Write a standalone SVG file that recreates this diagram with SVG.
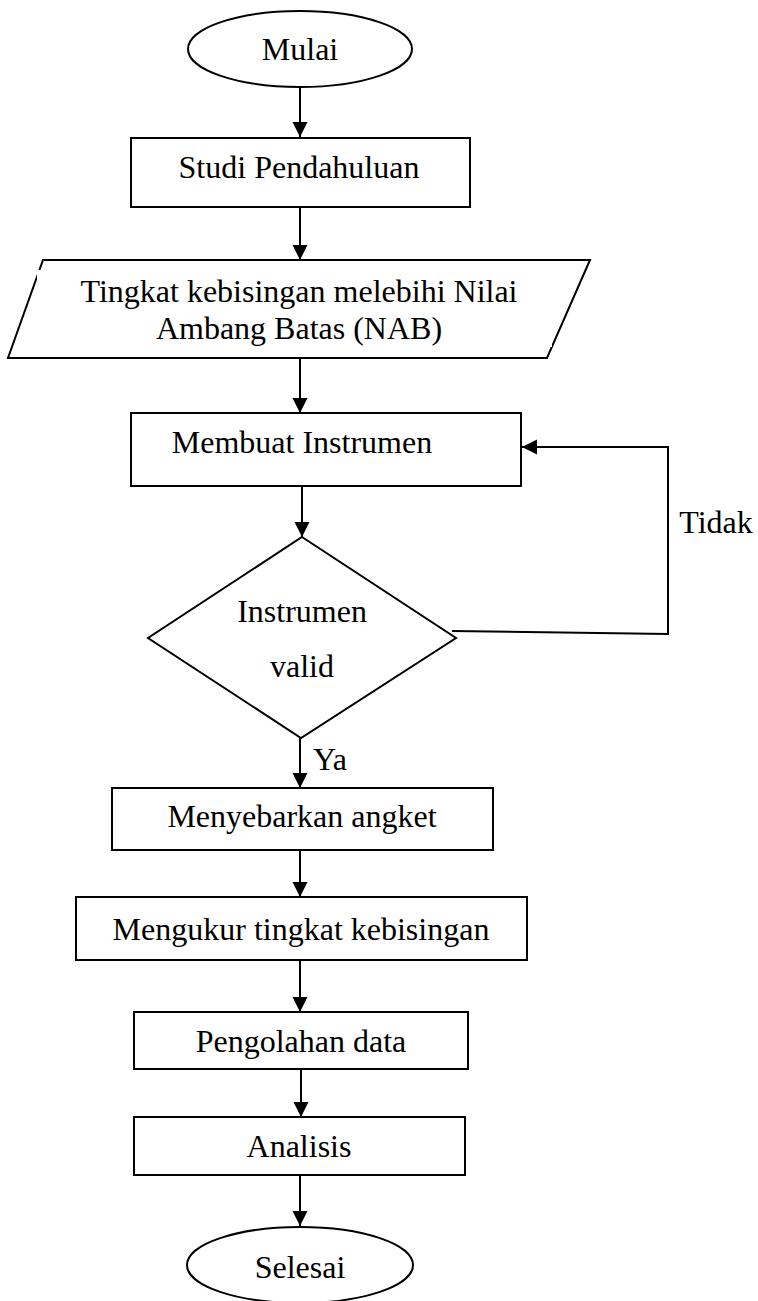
<svg xmlns="http://www.w3.org/2000/svg" width="758" height="1301" viewBox="0 0 758 1301">
<style>
.s{fill:#fff;stroke:#000;stroke-width:2}
.t{font-family:"Liberation Serif","Times New Roman",serif;font-size:32px;fill:#000;text-anchor:middle}
.c{fill:none;stroke:#000;stroke-width:2}
</style>
<defs>
<marker id="ah" markerUnits="userSpaceOnUse" markerWidth="16" markerHeight="16" refX="15" refY="7.5" orient="auto">
<path d="M0,0 L15,7.5 L0,15 z" fill="#000"/>
</marker>
<clipPath id="tb"><rect x="37" y="268" width="515" height="79"/></clipPath>
</defs>
<rect width="758" height="1301" fill="#fff"/>
<g id="connectors">
<line class="c" x1="300" y1="87" x2="300" y2="137" marker-end="url(#ah)"/>
<line class="c" x1="300" y1="207" x2="300" y2="260" marker-end="url(#ah)"/>
<line class="c" x1="300" y1="358" x2="300" y2="413" marker-end="url(#ah)"/>
<line class="c" x1="302" y1="486" x2="302" y2="537" marker-end="url(#ah)"/>
<line class="c" x1="300" y1="738" x2="300" y2="788" marker-end="url(#ah)"/>
<line class="c" x1="300" y1="850" x2="300" y2="897" marker-end="url(#ah)"/>
<line class="c" x1="300" y1="960" x2="300" y2="1012" marker-end="url(#ah)"/>
<line class="c" x1="301" y1="1069" x2="301" y2="1117" marker-end="url(#ah)"/>
<line class="c" x1="300" y1="1175" x2="300" y2="1226" marker-end="url(#ah)"/>
<polyline class="c" points="452,631 668,634 668,447 522,447" marker-end="url(#ah)"/>
<text class="t" x="716" y="533">Tidak</text>
<text class="t" x="330" y="770">Ya</text>
</g>
<g id="mulai">
<ellipse class="s" cx="300" cy="49" rx="112" ry="38"/>
<text class="t" x="300" y="60">Mulai</text>
</g>
<g id="studi">
<rect class="s" x="131" y="138" width="339" height="69"/>
<text class="t" x="299" y="178">Studi Pendahuluan</text>
</g>
<g id="nab">
<polygon class="s" points="43,260 590,260 547,358 8,358"/>
<rect x="37" y="270" width="515" height="77" fill="#fff"/>
<g clip-path="url(#tb)">
<text class="t" x="299" y="302">Tingkat kebisingan melebihi Nilai</text>
<text class="t" x="299" y="339">Ambang Batas (NAB)</text>
</g>
</g>
<g id="membuat">
<rect class="s" x="131" y="413" width="390" height="73"/>
<text class="t" x="302" y="453">Membuat Instrumen</text>
</g>
<g id="valid">
<polygon class="s" points="302,537 456,638 301,738 148,638"/>
<text class="t" x="302" y="622">Instrumen</text>
<text class="t" x="302" y="677">valid</text>
</g>
<g id="menyebarkan">
<rect class="s" x="112" y="788" width="381" height="62"/>
<text class="t" x="302" y="827">Menyebarkan angket</text>
</g>
<g id="mengukur">
<rect class="s" x="76" y="897" width="451" height="63"/>
<text class="t" x="301" y="940">Mengukur tingkat kebisingan</text>
</g>
<g id="pengolahan">
<rect class="s" x="134" y="1012" width="334" height="57"/>
<text class="t" x="301" y="1052">Pengolahan data</text>
</g>
<g id="analisis">
<rect class="s" x="134" y="1117" width="331" height="58"/>
<text class="t" x="299" y="1157">Analisis</text>
</g>
<g id="selesai">
<ellipse class="s" cx="300" cy="1265" rx="113" ry="38"/>
<text class="t" x="300" y="1278">Selesai</text>
</g>
</svg>
